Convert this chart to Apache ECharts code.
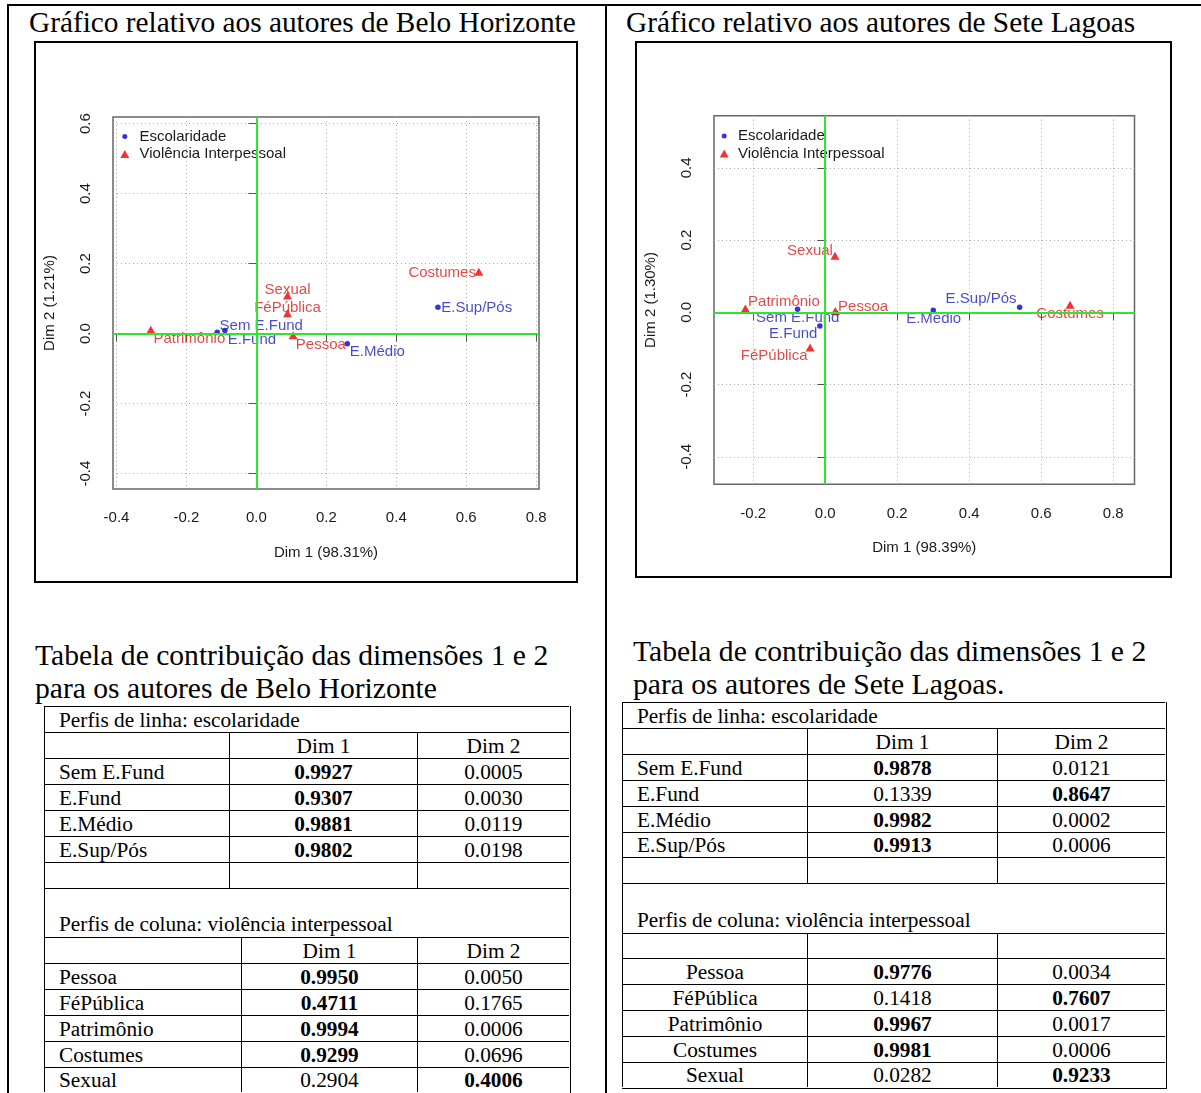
<!DOCTYPE html>
<html><head><meta charset="utf-8">
<script src="https://cdn.jsdelivr.net/npm/echarts@6.0.0/dist/echarts.min.js"></script>
<style>
body{margin:0;background:#fff;width:1201px;height:1093px;overflow:hidden;position:relative;font-family:'Liberation Serif','Times New Roman',serif;color:#000;}
.ln{position:absolute;background:#000;}
.ttl{position:absolute;font-size:29.3px;line-height:33px;white-space:nowrap;}
.hd{position:absolute;font-size:29.6px;line-height:33px;white-space:nowrap;}
.box{position:absolute;box-sizing:border-box;border:2px solid #000;pointer-events:none;}
.chart{position:absolute;}
.cell{position:absolute;box-sizing:border-box;border-left:1.5px solid #000;border-top:1.5px solid #000;font-size:21.3px;line-height:24px;display:flex;align-items:center;white-space:nowrap;}
.tbl{position:absolute;box-sizing:border-box;border-right:1.5px solid #000;border-bottom:1.5px solid #000;}
</style></head>
<body>
<div class="ln" style="left:6.5px;top:3.5px;width:1195px;height:2px"></div>
<div class="ln" style="left:6.5px;top:3.5px;width:2px;height:1090px"></div>
<div class="ln" style="left:605px;top:3.5px;width:2px;height:1090px"></div>

<div class="ttl" id="t1" style="left:29px;top:6px"></div>
<div class="ttl" id="t2" style="left:626px;top:6px"></div>

<div class="chart" id="c1" style="left:34px;top:41px;width:544px;height:542px"></div>
<div class="box" style="left:34px;top:41px;width:544px;height:542px"></div>
<div class="chart" id="c2" style="left:635px;top:41px;width:537px;height:537px"></div>
<div class="box" style="left:635px;top:41px;width:537px;height:537px"></div>

<div class="hd" id="h1" style="left:35px;top:639px"></div>
<div class="hd" id="h2" style="left:633px;top:635px"></div>

<div id="tab1"></div>
<div id="tab2"></div>

<script>
// ---------- DATA ----------
const chartTitleBH = 'Gráfico relativo aos autores de Belo Horizonte';
const chartTitleSL = 'Gráfico relativo aos autores de Sete Lagoas';
const tableTitleBH = ['Tabela de contribuição das dimensões 1 e 2', 'para os autores de Belo Horizonte'];
const tableTitleSL = ['Tabela de contribuição das dimensões 1 e 2', 'para os autores de Sete Lagoas.'];

const escNames = ['Sem E.Fund', 'E.Fund', 'E.Médio', 'E.Sup/Pós'];
const vioNames = ['Pessoa', 'FéPública', 'Patrimônio', 'Costumes', 'Sexual'];
const legendNames = ['Escolaridade', 'Violência Interpessoal'];

// Belo Horizonte CA coordinates
const bhEscDim1 = [-0.112, -0.090, 0.260, 0.519];
const bhEscDim2 = [0.004, 0.009, -0.029, 0.075];
const bhVioDim1 = [0.105, 0.089, -0.302, 0.636, 0.089];
const bhVioDim2 = [-0.005, 0.058, 0.011, 0.177, 0.109];
const bhAxisNames = ['Dim 1 (98.31%)', 'Dim 2 (1.21%)'];
const bhXTicks = [-0.4, -0.2, 0.0, 0.2, 0.4, 0.6, 0.8];
const bhYTicks = [-0.4, -0.2, 0.0, 0.2, 0.4, 0.6];

// Sete Lagoas CA coordinates
const slEscDim1 = [-0.077, -0.015, 0.300, 0.540];
const slEscDim2 = [0.009, -0.038, 0.006, 0.014];
const slVioDim1 = [0.028, -0.042, -0.222, 0.680, 0.027];
const slVioDim2 = [0.004, -0.097, 0.011, 0.021, 0.157];
const slAxisNames = ['Dim 1 (98.39%)', 'Dim 2 (1.30%)'];
const slXTicks = [-0.2, 0.0, 0.2, 0.4, 0.6, 0.8];
const slYTicks = [-0.4, -0.2, 0.0, 0.2, 0.4];

// Contribution tables
const rowProfileTitle = 'Perfis de linha: escolaridade';
const colProfileTitle = 'Perfis de coluna: violência interpessoal';
const dimHeaders = ['Dim 1', 'Dim 2'];
const bhEscC1 = [0.9927, 0.9307, 0.9881, 0.9802];
const bhEscC2 = [0.0005, 0.0030, 0.0119, 0.0198];
const bhVioC1 = [0.9950, 0.4711, 0.9994, 0.9299, 0.2904];
const bhVioC2 = [0.0050, 0.1765, 0.0006, 0.0696, 0.4006];
const slEscC1 = [0.9878, 0.1339, 0.9982, 0.9913];
const slEscC2 = [0.0121, 0.8647, 0.0002, 0.0006];
const slVioC1 = [0.9776, 0.1418, 0.9967, 0.9981, 0.0282];
const slVioC2 = [0.0034, 0.7607, 0.0017, 0.0006, 0.9233];

// ---------- STYLE / LAYOUT ----------
const SANS = "'Liberation Sans', Arial, Helvetica, sans-serif";
const BLUE = '#0000e0', BLUE_TXT = '#1c1cbe';
const RED = '#ee0000', RED_TXT = '#dc1c1c';
const GREEN = '#2ee62e';
const INK = '#1a1a1a';

// label offsets (px) relative to each point, mimicking the R label placement
const bhEscLab = [[44, -6.6], [27, 9.3], [30, 8], [38.8, 0]];
const bhVioLab = [[27.7, 9], [0, -5.3], [38.6, 9.3], [-36.7, 1.6], [0, -5.7]];
const slEscLab = [[0.2, 8.3], [-26.6, 8], [0.4, 9], [-38.6, -8]];
const slVioLab = [[27.8, -4.3], [-36, 8.7], [38.6, -6.3], [0, 8.6], [-25, -5]];

document.getElementById('t1').textContent = chartTitleBH;
document.getElementById('t2').textContent = chartTitleSL;
document.getElementById('h1').innerHTML = tableTitleBH.join('<br>');
document.getElementById('h2').innerHTML = tableTitleSL.join('<br>');

function scatterChart(el, cfg) {
  const chart = echarts.init(el, null, {renderer: 'canvas'});
  const mk = (names, xs, ys, offs) => names.map((n, i) => ({name: n, value: [xs[i], ys[i]], label: {offset: offs[i]}}));
  const lab = (c) => ({show: true, position: 'inside', formatter: '{b}', fontSize: 15, fontFamily: SANS, color: c, align: 'center', verticalAlign: 'middle'});
  const axisCommon = (ticks, margin) => ({
    type: 'value', nameLocation: 'middle', nameGap: 56,
    nameTextStyle: {fontSize: 15, color: INK, fontFamily: SANS},
    axisLine: {show: false},
    axisTick: {show: true, length: 8, customValues: ticks, lineStyle: {color: '#555', width: 1}},
    axisLabel: {customValues: ticks, formatter: v => v.toFixed(1), fontSize: 15, color: INK, fontFamily: SANS, margin: margin},
    splitLine: {show: true, lineStyle: {type: [1, 3], color: '#aaa', width: 1}}
  });
  const lg = cfg.leg;
  chart.setOption({
    animation: false,
    grid: {left: cfg.grid[0], top: cfg.grid[1], width: cfg.grid[2], height: cfg.grid[3], show: true, borderColor: '#666', borderWidth: 1.5, backgroundColor: 'transparent'},
    legend: [
      {data: [legendNames[0]], left: lg.cx - 2.5, top: lg.cy1 - 8, itemWidth: 5, itemHeight: 5, padding: 0, selectedMode: false,
       textStyle: {fontSize: 15, lineHeight: 16, fontFamily: SANS, color: INK, padding: [0, 0, 0, lg.tx - (lg.cx - 2.5) - 10]}},
      {data: [legendNames[1]], left: lg.cx - 4.5, top: lg.cy2 - 8, itemWidth: 9, itemHeight: 8, padding: 0, selectedMode: false,
       textStyle: {fontSize: 15, lineHeight: 16, fontFamily: SANS, color: INK, padding: [0, 0, 0, lg.tx - (lg.cx - 4.5) - 14]}}
    ],
    xAxis: Object.assign(axisCommon(cfg.xTicks, cfg.xMargin), {min: cfg.x[0], max: cfg.x[1], name: cfg.names[0]}),
    yAxis: Object.assign(axisCommon(cfg.yTicks, 20), {min: cfg.y[0], max: cfg.y[1], name: cfg.names[1],
      axisLabel: {customValues: cfg.yTicks, formatter: v => v.toFixed(1), fontSize: 15, color: INK, fontFamily: SANS, margin: 20, rotate: 90}}),
    series: [
      {name: legendNames[0], type: 'scatter', symbol: 'circle', symbolSize: 5.5, itemStyle: {color: BLUE}, label: lab(BLUE_TXT), z: 3,
       data: mk(escNames, cfg.escX, cfg.escY, cfg.escLab),
       markLine: {silent: true, symbol: ['none', 'none'], label: {show: false}, animation: false,
         lineStyle: {color: GREEN, width: 2, type: 'solid'}, emphasis: {disabled: true},
         data: [{xAxis: 0}, {yAxis: 0}]}},
      {name: legendNames[1], type: 'scatter', symbol: 'triangle', symbolSize: [9, 8], itemStyle: {color: RED}, label: lab(RED_TXT), z: 3,
       data: mk(vioNames, cfg.vioX, cfg.vioY, cfg.vioLab)}
    ]
  });
}

scatterChart(document.getElementById('c1'), {
  grid: [77, 76, 428, 372], x: [-0.41, 0.808], y: [-0.444, 0.619],
  xTicks: bhXTicks, yTicks: bhYTicks, names: bhAxisNames, xMargin: 21,
  escX: bhEscDim1, escY: bhEscDim2, vioX: bhVioDim1, vioY: bhVioDim2,
  escLab: bhEscLab, vioLab: bhVioLab,
  leg: {cx: 90.8, cy1: 95.5, cy2: 113, tx: 105.5}
});
scatterChart(document.getElementById('c2'), {
  grid: [75.4, 74.7, 424.1, 368.6], x: [-0.309, 0.859], y: [-0.476, 0.5446],
  xTicks: slXTicks, yTicks: slYTicks, names: slAxisNames, xMargin: 22,
  escX: slEscDim1, escY: slEscDim2, vioX: slVioDim1, vioY: slVioDim2,
  escLab: slEscLab, vioLab: slVioLab,
  leg: {cx: 89.2, cy1: 95, cy2: 112.5, tx: 103}
});

// ---------- TABLES ----------
function buildTable(host, t) {
  const frag = document.createDocumentFragment();
  const add = (x0, x1, y0, y1, html, opts) => {
    const d = document.createElement('div');
    d.className = 'cell';
    d.style.left = x0 + 'px'; d.style.top = y0 + 'px';
    d.style.width = (x1 - x0) + 'px'; d.style.height = (y1 - y0) + 'px';
    d.style.justifyContent = opts.align || 'center';
    if (opts.pad) d.style.paddingLeft = opts.pad + 'px';
    if (opts.bottom) { d.style.alignItems = 'flex-end'; d.style.paddingBottom = '1px'; }
    d.innerHTML = html;
    frag.appendChild(d);
  };
  const fmt = (v, b) => b ? '<b>' + v.toFixed(4) + '</b>' : v.toFixed(4);
  const U = t.up, L = t.low, R = t.rows;
  let k = 0;
  add(U[0], U[3], R[k], R[k + 1], rowProfileTitle, {align: 'flex-start', pad: 14}); k++;
  add(U[0], U[1], R[k], R[k + 1], '', {}); add(U[1], U[2], R[k], R[k + 1], dimHeaders[0], {}); add(U[2], U[3], R[k], R[k + 1], dimHeaders[1], {}); k++;
  escNames.forEach((n, i) => {
    const b1 = t.e1[i] >= t.e2[i];
    add(U[0], U[1], R[k], R[k + 1], n, {align: 'flex-start', pad: 14});
    add(U[1], U[2], R[k], R[k + 1], fmt(t.e1[i], b1), {});
    add(U[2], U[3], R[k], R[k + 1], fmt(t.e2[i], !b1), {});
    k++;
  });
  add(U[0], U[1], R[k], R[k + 1], '', {}); add(U[1], U[2], R[k], R[k + 1], '', {}); add(U[2], U[3], R[k], R[k + 1], '', {}); k++;
  add(L[0], L[3], R[k], R[k + 1], colProfileTitle, {align: 'flex-start', pad: 14, bottom: true}); k++;
  add(L[0], L[1], R[k], R[k + 1], '', {});
  add(L[1], L[2], R[k], R[k + 1], t.lowHeader ? dimHeaders[0] : '', {});
  add(L[2], L[3], R[k], R[k + 1], t.lowHeader ? dimHeaders[1] : '', {}); k++;
  vioNames.forEach((n, i) => {
    const b1 = t.v1[i] >= t.v2[i];
    add(L[0], L[1], R[k], R[k + 1], n, t.centerNames ? {} : {align: 'flex-start', pad: 14});
    add(L[1], L[2], R[k], R[k + 1], fmt(t.v1[i], b1), {});
    add(L[2], L[3], R[k], R[k + 1], fmt(t.v2[i], !b1), {});
    k++;
  });
  const outer = document.createElement('div');
  outer.className = 'tbl';
  outer.style.left = U[0] + 'px'; outer.style.top = R[0] + 'px';
  outer.style.width = (U[3] - U[0] + 1.5) + 'px'; outer.style.height = (R[R.length - 1] - R[0] + 1.5) + 'px';
  frag.appendChild(outer);
  host.appendChild(frag);
}

buildTable(document.getElementById('tab1'), {
  up: [44, 229, 417, 569], low: [44, 241, 417, 569],
  rows: [706, 732, 758, 784, 810, 836, 862, 888, 937, 963, 989, 1015, 1041, 1067, 1092],
  e1: bhEscC1, e2: bhEscC2, v1: bhVioC1, v2: bhVioC2, lowHeader: true, centerNames: false
});
buildTable(document.getElementById('tab2'), {
  up: [622, 807, 997, 1165], low: [622, 807, 997, 1165],
  rows: [702, 728, 754, 780, 806, 832, 857, 883, 933, 958, 984, 1010, 1036, 1062, 1087],
  e1: slEscC1, e2: slEscC2, v1: slVioC1, v2: slVioC2, lowHeader: false, centerNames: true
});
</script>
</body></html>
